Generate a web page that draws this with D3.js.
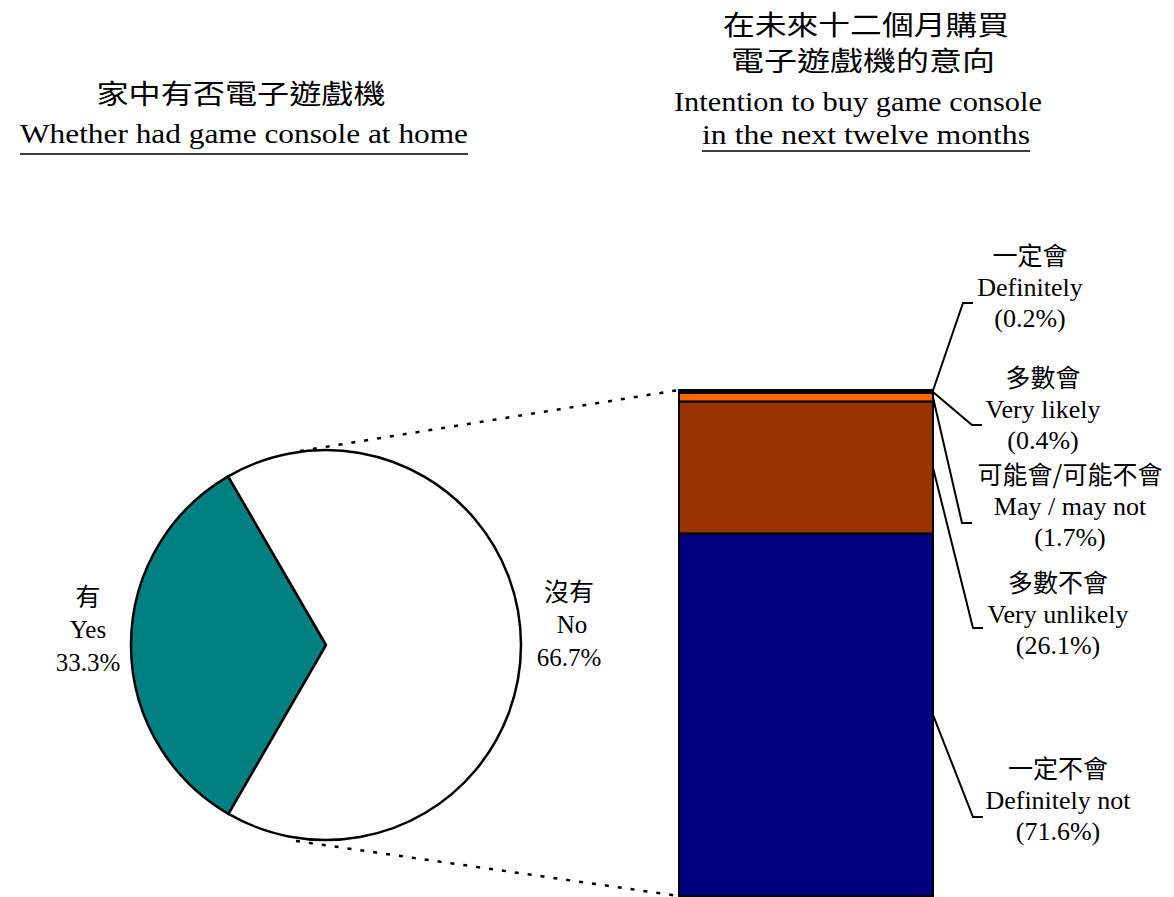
<!DOCTYPE html>
<html>
<head>
<meta charset="utf-8">
<script src="https://cdn.jsdelivr.net/npm/d3@7"></script>
<style>
  html, body { margin: 0; padding: 0; background: #fff; }
  svg { display: block; }
  .lat { font-family: "Liberation Serif", "Times New Roman", serif; fill: #000; }
  .cjk { font-family: "Noto Sans CJK TC", "Noto Sans CJK SC", sans-serif; fill: #000; }
</style>
</head>
<body>
<svg id="chart" width="1174" height="897"></svg>
<script>
// ---------------- data ----------------
const pieLabelsZh = ["有", "沒有"];
const pieLabelsEn = ["Yes", "No"];
const pieValues = [33.3, 66.7];

const barCatsZh = ["一定會", "多數會", "可能會/可能不會", "多數不會", "一定不會"];
const barCatsEn = ["Definitely", "Very likely", "May / may not", "Very unlikely", "Definitely not"];
const barValues = [0.2, 0.4, 1.7, 26.1, 71.6];

const titleLeftZh = "家中有否電子遊戲機";
const titleLeftEn = "Whether had game console at home";
const titleRightZh = ["在未來十二個月購買", "電子遊戲機的意向"];
const titleRightEn = ["Intention to buy game console", "in the next twelve months"];

// ---------------- styles / layout ----------------
const pieColors = ["#008080", "#FFFFFF"];
const barColors = ["#FFFF00", "#FF9900", "#FF6600", "#993300", "#000080"];

const svg = d3.select("#chart");

function txt(x, y, str, cls, size, opts = {}) {
  const t = svg.append("text")
    .attr("class", cls)
    .attr("x", x).attr("y", y)
    .attr("text-anchor", "middle")
    .style("font-size", size + "px")
    .text(str);
  if (opts.len) t.attr("textLength", opts.len).attr("lengthAdjust", "spacingAndGlyphs");
  return t;
}

// ---------------- titles ----------------
txt(241, 104, titleLeftZh, "cjk", 27, {len: 289});
txt(244, 143, titleLeftEn, "lat", 28, {len: 448});
svg.append("line").attr("x1", 20).attr("x2", 468).attr("y1", 154).attr("y2", 154)
  .attr("stroke", "#000").attr("stroke-width", 1.5);

txt(866, 35, titleRightZh[0], "cjk", 27, {len: 286});
txt(863, 71, titleRightZh[1], "cjk", 27, {len: 264});
txt(858, 111, titleRightEn[0], "lat", 28, {len: 368});
txt(866, 144, titleRightEn[1], "lat", 28, {len: 328});
svg.append("line").attr("x1", 702).attr("x2", 1030).attr("y1", 151).attr("y2", 151)
  .attr("stroke", "#000").attr("stroke-width", 1.5);

// ---------------- pie ----------------
const cx = 326, cy = 645, r = 195;
const pie = d3.pie().sort(null)
  .startAngle(7 * Math.PI / 6).endAngle(7 * Math.PI / 6 + 2 * Math.PI);
const arc = d3.arc().innerRadius(0).outerRadius(r);
const pg = svg.append("g").attr("transform", `translate(${cx},${cy})`);
pg.selectAll("path").data(pie(pieValues)).join("path")
  .attr("d", arc)
  .attr("fill", (d, i) => pieColors[i])
  .attr("stroke", "#000").attr("stroke-width", 2.5).attr("stroke-linejoin", "round");

// pie labels
const pieLabelPos = [{x: 88, y: 606}, {x: 569, y: 601}];
pieValues.forEach((v, i) => {
  const p = pieLabelPos[i];
  txt(p.x, p.y, pieLabelsZh[i], "cjk", 25);
  txt(p.x + (i ? 3 : 0), p.y + 32, pieLabelsEn[i], "lat", 25);
  txt(p.x, p.y + 65, v.toFixed(1) + "%", "lat", 25);
});

// ---------------- stacked bar ----------------
const bx0 = 679, bx1 = 933;
const y = d3.scaleLinear().domain([0, 100]).range([390, 896]);
let cum = 0;
const segs = barValues.map((v, i) => {
  const s = {i, v, a: cum, b: cum + v};
  cum += v;
  return s;
});

// dotted connectors (pie top/bottom to bar top/bottom)
svg.append("line").attr("x1", 300).attr("y1", 451).attr("x2", bx0).attr("y2", y(0))
  .attr("stroke", "#000").attr("stroke-width", 2.5).attr("stroke-dasharray", "4,9");
svg.append("line").attr("x1", 296).attr("y1", 841).attr("x2", bx0).attr("y2", y(100))
  .attr("stroke", "#000").attr("stroke-width", 2.5).attr("stroke-dasharray", "4,9");

svg.append("g").selectAll("rect").data(segs).join("rect")
  .attr("x", bx0).attr("width", bx1 - bx0)
  .attr("y", d => y(d.a)).attr("height", d => y(d.b) - y(d.a))
  .attr("fill", d => barColors[d.i])
  .attr("stroke", "#000").attr("stroke-width", 2);

// leader lines & labels
const leaderElbows = [
  {x: 963, y: 303}, {x: 972, y: 425}, {x: 962, y: 523}, {x: 973, y: 628}, {x: 973, y: 817}
];
const labelPos = [
  {x: 1030, y: 265}, {x: 1043, y: 387}, {x: 1070, y: 484}, {x: 1058, y: 592}, {x: 1058, y: 778}
];
segs.forEach((s, i) => {
  const ym = y((s.a + s.b) / 2);
  const e = leaderElbows[i];
  svg.append("path")
    .attr("d", d3.line()([[bx1, ym], [e.x, e.y], [e.x + 10, e.y]]))
    .attr("fill", "none").attr("stroke", "#000").attr("stroke-width", 2);
  const p = labelPos[i];
  txt(p.x, p.y, barCatsZh[i], "cjk", 25);
  txt(p.x, p.y + 31, barCatsEn[i], "lat", 26);
  txt(p.x, p.y + 62, "(" + s.v.toFixed(1) + "%)", "lat", 26);
});
</script>
</body>
</html>
